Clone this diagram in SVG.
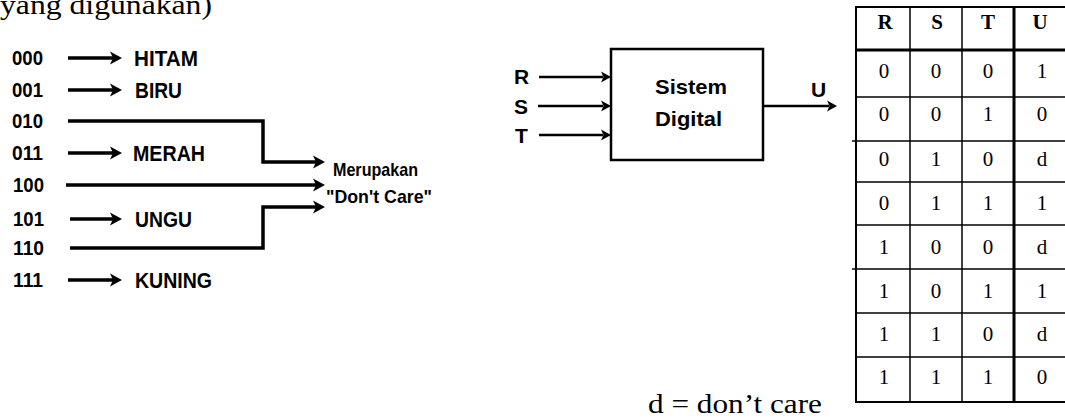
<svg xmlns="http://www.w3.org/2000/svg" width="1065" height="418" viewBox="0 0 1065 418">
  <style>
    .serif { font-family: "Liberation Serif", "Times New Roman", serif; fill: #000; }
    .lbl { font-family: "Liberation Sans", Arial, sans-serif; font-weight: bold; fill: #000; }
    .code { font-size: 20px; }
    .word { font-size: 22px; }
    .note { font-size: 19px; }
    .io { font-size: 21px; }
    .wire { fill: none; stroke: #000; stroke-width: 3.5; stroke-linejoin: miter; }
    .thin { fill: none; stroke: #000; stroke-width: 2.5; }
    .grid { stroke: #000; stroke-width: 1.5; }
    .heavy { stroke: #000; stroke-width: 3; }
    .cell { font-family: "Liberation Serif", "Times New Roman", serif; font-size: 21px; text-anchor: middle; fill: #000; }
    .head { font-family: "Liberation Serif", "Times New Roman", serif; font-size: 21px; font-weight: bold; text-anchor: middle; fill: #000; }
  </style>
  <defs>
    <path id="ah" d="M-12,-6.5 L0,0 L-12,6.5 L-9,0 Z" fill="#000"/>
    <path id="ahs" d="M-10,-5.5 L0,0 L-10,5.5 L-7.5,0 Z" fill="#000"/>
  </defs>
  <rect width="1065" height="418" fill="#fff"/>

  <!-- running text -->
  <text class="serif" x="0" y="14" font-size="28" textLength="212" lengthAdjust="spacingAndGlyphs">yang digunakan)</text>
  <text class="serif" x="648" y="413" font-size="27" textLength="174" lengthAdjust="spacingAndGlyphs">d = don’t care</text>

  <!-- colour codes -->
  <g id="codes">
    <text class="lbl code" x="12" y="65" textLength="31" lengthAdjust="spacingAndGlyphs">000</text>
    <text class="lbl code" x="12" y="97" textLength="31" lengthAdjust="spacingAndGlyphs">001</text>
    <text class="lbl code" x="12" y="128" textLength="31" lengthAdjust="spacingAndGlyphs">010</text>
    <text class="lbl code" x="12" y="160" textLength="31" lengthAdjust="spacingAndGlyphs">011</text>
    <text class="lbl code" x="13" y="192" textLength="31" lengthAdjust="spacingAndGlyphs">100</text>
    <text class="lbl code" x="13" y="226" textLength="31" lengthAdjust="spacingAndGlyphs">101</text>
    <text class="lbl code" x="13" y="255" textLength="31" lengthAdjust="spacingAndGlyphs">110</text>
    <text class="lbl code" x="13" y="287" textLength="30" lengthAdjust="spacingAndGlyphs">111</text>
  </g>

  <g id="colours">
    <text class="lbl word" x="134" y="66" textLength="64" lengthAdjust="spacingAndGlyphs">HITAM</text>
    <text class="lbl word" x="135" y="98" textLength="47" lengthAdjust="spacingAndGlyphs">BIRU</text>
    <text class="lbl word" x="133" y="161" textLength="72" lengthAdjust="spacingAndGlyphs">MERAH</text>
    <text class="lbl word" x="135" y="227" textLength="57" lengthAdjust="spacingAndGlyphs">UNGU</text>
    <text class="lbl word" x="135" y="288" textLength="77" lengthAdjust="spacingAndGlyphs">KUNING</text>
  </g>

  <g id="dontcare">
    <text class="lbl note" x="333" y="176" textLength="85" lengthAdjust="spacingAndGlyphs">Merupakan</text>
    <text class="lbl note" x="326" y="203" textLength="106" lengthAdjust="spacingAndGlyphs">"Don't Care"</text>
  </g>

  <!-- connectors of the colour map -->
  <g id="code-connectors">
    <path class="wire" d="M68,58 H113"/><use href="#ah" x="122" y="58"/>
    <path class="wire" d="M68,90 H113"/><use href="#ah" x="122" y="90"/>
    <path class="wire" d="M68,153 H113"/><use href="#ah" x="122" y="153"/>
    <path class="wire" d="M70,219 H113"/><use href="#ah" x="122" y="219"/>
    <path class="wire" d="M68,280 H113"/><use href="#ah" x="122" y="280"/>
    <path class="wire" d="M68,121 H263 V162 H316"/><use href="#ah" x="325" y="162"/>
    <path class="wire" d="M66,185 H316"/><use href="#ah" x="325" y="185"/>
    <path class="wire" d="M70,248 H263 V207 H316"/><use href="#ah" x="325" y="207"/>
  </g>

  <!-- digital system block -->
  <g id="system">
    <rect x="611" y="49" width="152" height="111" fill="#fff" stroke="#000" stroke-width="2.5"/>
    <text class="lbl io" x="655" y="94" textLength="72" lengthAdjust="spacingAndGlyphs">Sistem</text>
    <text class="lbl io" x="655" y="126" textLength="67" lengthAdjust="spacingAndGlyphs">Digital</text>
  </g>
  <g id="io-labels">
    <text class="lbl io" x="514" y="84">R</text>
    <text class="lbl io" x="514" y="114">S</text>
    <text class="lbl io" x="515" y="143">T</text>
    <text class="lbl io" x="811" y="97">U</text>
  </g>
  <g id="system-connectors">
    <path class="thin" d="M539,77 H603"/><use href="#ahs" x="611" y="77"/>
    <path class="thin" d="M538,106 H603"/><use href="#ahs" x="611" y="106"/>
    <path class="thin" d="M539,135 H603"/><use href="#ahs" x="611" y="135"/>
    <path class="thin" d="M763,106 H829"/><use href="#ahs" x="837" y="106"/>
  </g>

  <!-- truth table -->
  <g id="truth-table">
    <rect x="856" y="7" width="220" height="395" fill="none" stroke="#000" stroke-width="2"/>
    <line class="grid" x1="910" y1="7" x2="910" y2="402"/>
    <line class="grid" x1="962" y1="7" x2="962" y2="402"/>
    <line class="heavy" x1="1014" y1="7" x2="1014" y2="402"/>
    <line class="heavy" x1="856" y1="50" x2="1065" y2="50"/>
    <line class="grid" x1="856" y1="97" x2="1065" y2="97"/>
    <line class="grid" x1="852" y1="141" x2="1065" y2="141"/>
    <line class="grid" x1="856" y1="182" x2="1065" y2="182"/>
    <line class="grid" x1="856" y1="225" x2="1065" y2="225"/>
    <line class="grid" x1="852" y1="269" x2="1065" y2="269"/>
    <line class="grid" x1="856" y1="313" x2="1065" y2="313"/>
    <line class="grid" x1="856" y1="357" x2="1065" y2="357"/>

    <text class="head" x="885" y="29">R</text>
    <text class="head" x="937" y="29">S</text>
    <text class="head" x="988" y="29">T</text>
    <text class="head" x="1040" y="29">U</text>

    <text class="cell" x="884" y="78">0</text><text class="cell" x="936" y="78">0</text><text class="cell" x="988" y="78">0</text><text class="cell" x="1042" y="78">1</text>
    <text class="cell" x="884" y="121">0</text><text class="cell" x="936" y="121">0</text><text class="cell" x="988" y="121">1</text><text class="cell" x="1042" y="121">0</text>
    <text class="cell" x="884" y="166">0</text><text class="cell" x="936" y="166">1</text><text class="cell" x="988" y="166">0</text><text class="cell" x="1042" y="166">d</text>
    <text class="cell" x="884" y="210">0</text><text class="cell" x="936" y="210">1</text><text class="cell" x="988" y="210">1</text><text class="cell" x="1042" y="210">1</text>
    <text class="cell" x="884" y="254">1</text><text class="cell" x="936" y="254">0</text><text class="cell" x="988" y="254">0</text><text class="cell" x="1042" y="254">d</text>
    <text class="cell" x="884" y="298">1</text><text class="cell" x="936" y="298">0</text><text class="cell" x="988" y="298">1</text><text class="cell" x="1042" y="298">1</text>
    <text class="cell" x="884" y="341">1</text><text class="cell" x="936" y="341">1</text><text class="cell" x="988" y="341">0</text><text class="cell" x="1042" y="341">d</text>
    <text class="cell" x="884" y="384">1</text><text class="cell" x="936" y="384">1</text><text class="cell" x="988" y="384">1</text><text class="cell" x="1042" y="384">0</text>
  </g>
</svg>
